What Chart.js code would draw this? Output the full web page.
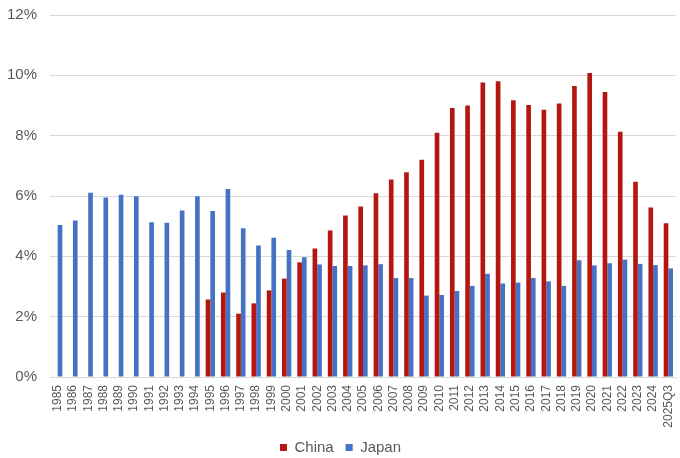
<!DOCTYPE html>
<html>
<head>
<meta charset="utf-8">
<script src="https://cdn.jsdelivr.net/npm/chart.js@4/dist/chart.umd.min.js"></script>
<style>
  body { margin: 0; background: #fff; }
  canvas { display: block; }
</style>
</head>
<body>
<canvas id="chart" width="680" height="458"></canvas>
<script>
const years = ['1985','1986','1987','1988','1989','1990','1991','1992','1993','1994',
    '1995','1996','1997','1998','1999','2000','2001','2002','2003','2004',
    '2005','2006','2007','2008','2009','2010','2011','2012','2013','2014',
    '2015','2016','2017','2018','2019','2020','2021','2022','2023','2024','2025Q3'];

const china = [null,null,null,null,null,null,null,null,null,null,
    2.57,2.80,2.10,2.44,2.87,3.26,3.80,4.26,4.86,5.35,
    5.65,6.09,6.55,6.79,7.20,8.10,8.92,9.00,9.76,9.80,
    9.17,9.02,8.86,9.07,9.65,10.08,9.45,8.13,6.47,5.62,5.10];

const japan = [5.04,5.19,6.11,5.95,6.04,5.99,5.13,5.11,5.52,5.99,
    5.50,6.23,4.93,4.36,4.62,4.21,3.97,3.73,3.68,3.68,
    3.70,3.74,3.28,3.28,2.70,2.72,2.85,3.02,3.42,3.10,
    3.13,3.28,3.17,3.02,3.87,3.70,3.77,3.89,3.75,3.71,3.60];

const yTicks = [0, 2, 4, 6, 8, 10, 12];

const labelColor = '#595959';
const fontFamily = '"Liberation Sans", Arial, sans-serif';

const ctx = document.getElementById('chart').getContext('2d');
const chart = new Chart(ctx, {
    type: 'bar',
    data: {
        labels: years,
        datasets: [
            {
                label: 'China',
                data: china,
                backgroundColor: '#B3170F',
                borderWidth: 0
            },
            {
                label: 'Japan',
                data: japan,
                backgroundColor: '#4472C4',
                borderWidth: 0
            }
        ]
    },
    options: {
        responsive: false,
        animation: false,
        layout: {
            // negative bottom lets the legend sit lower while keeping its item gap
            padding: { top: 15, right: 4, left: 5, bottom: -7 }
        },
        datasets: {
            bar: {
                categoryPercentage: 0.61,
                barPercentage: 1.0
            }
        },
        plugins: {
            legend: {
                position: 'bottom',
                labels: {
                    color: labelColor,
                    font: { family: fontFamily, size: 15 },
                    boxWidth: 7,
                    boxHeight: 7,
                    padding: 12
                }
            },
            tooltip: { enabled: false }
        },
        scales: {
            x: {
                grid: { display: false },
                border: { color: '#D9D9D9' },
                // keep the plot running to the right edge like the original
                afterFit: function(axis) {
                    axis.paddingLeft = 0;
                    axis.paddingRight = 0;
                    axis.height = 51;
                },
                ticks: {
                    color: labelColor,
                    font: { family: fontFamily, size: 12 },
                    maxRotation: 90,
                    minRotation: 90,
                    autoSkip: false,
                    padding: 0
                }
            },
            y: {
                min: 0,
                max: 12,
                afterBuildTicks: function(axis) {
                    axis.ticks = yTicks.map(v => ({ value: v }));
                },
                grid: { color: '#D9D9D9', tickLength: 11, tickColor: 'rgba(0,0,0,0)' },
                border: { display: false },
                ticks: {
                    color: labelColor,
                    font: { family: fontFamily, size: 15 },
                    padding: 2,
                    callback: v => v + '%'
                }
            }
        }
    }
});
</script>
</body>
</html>
